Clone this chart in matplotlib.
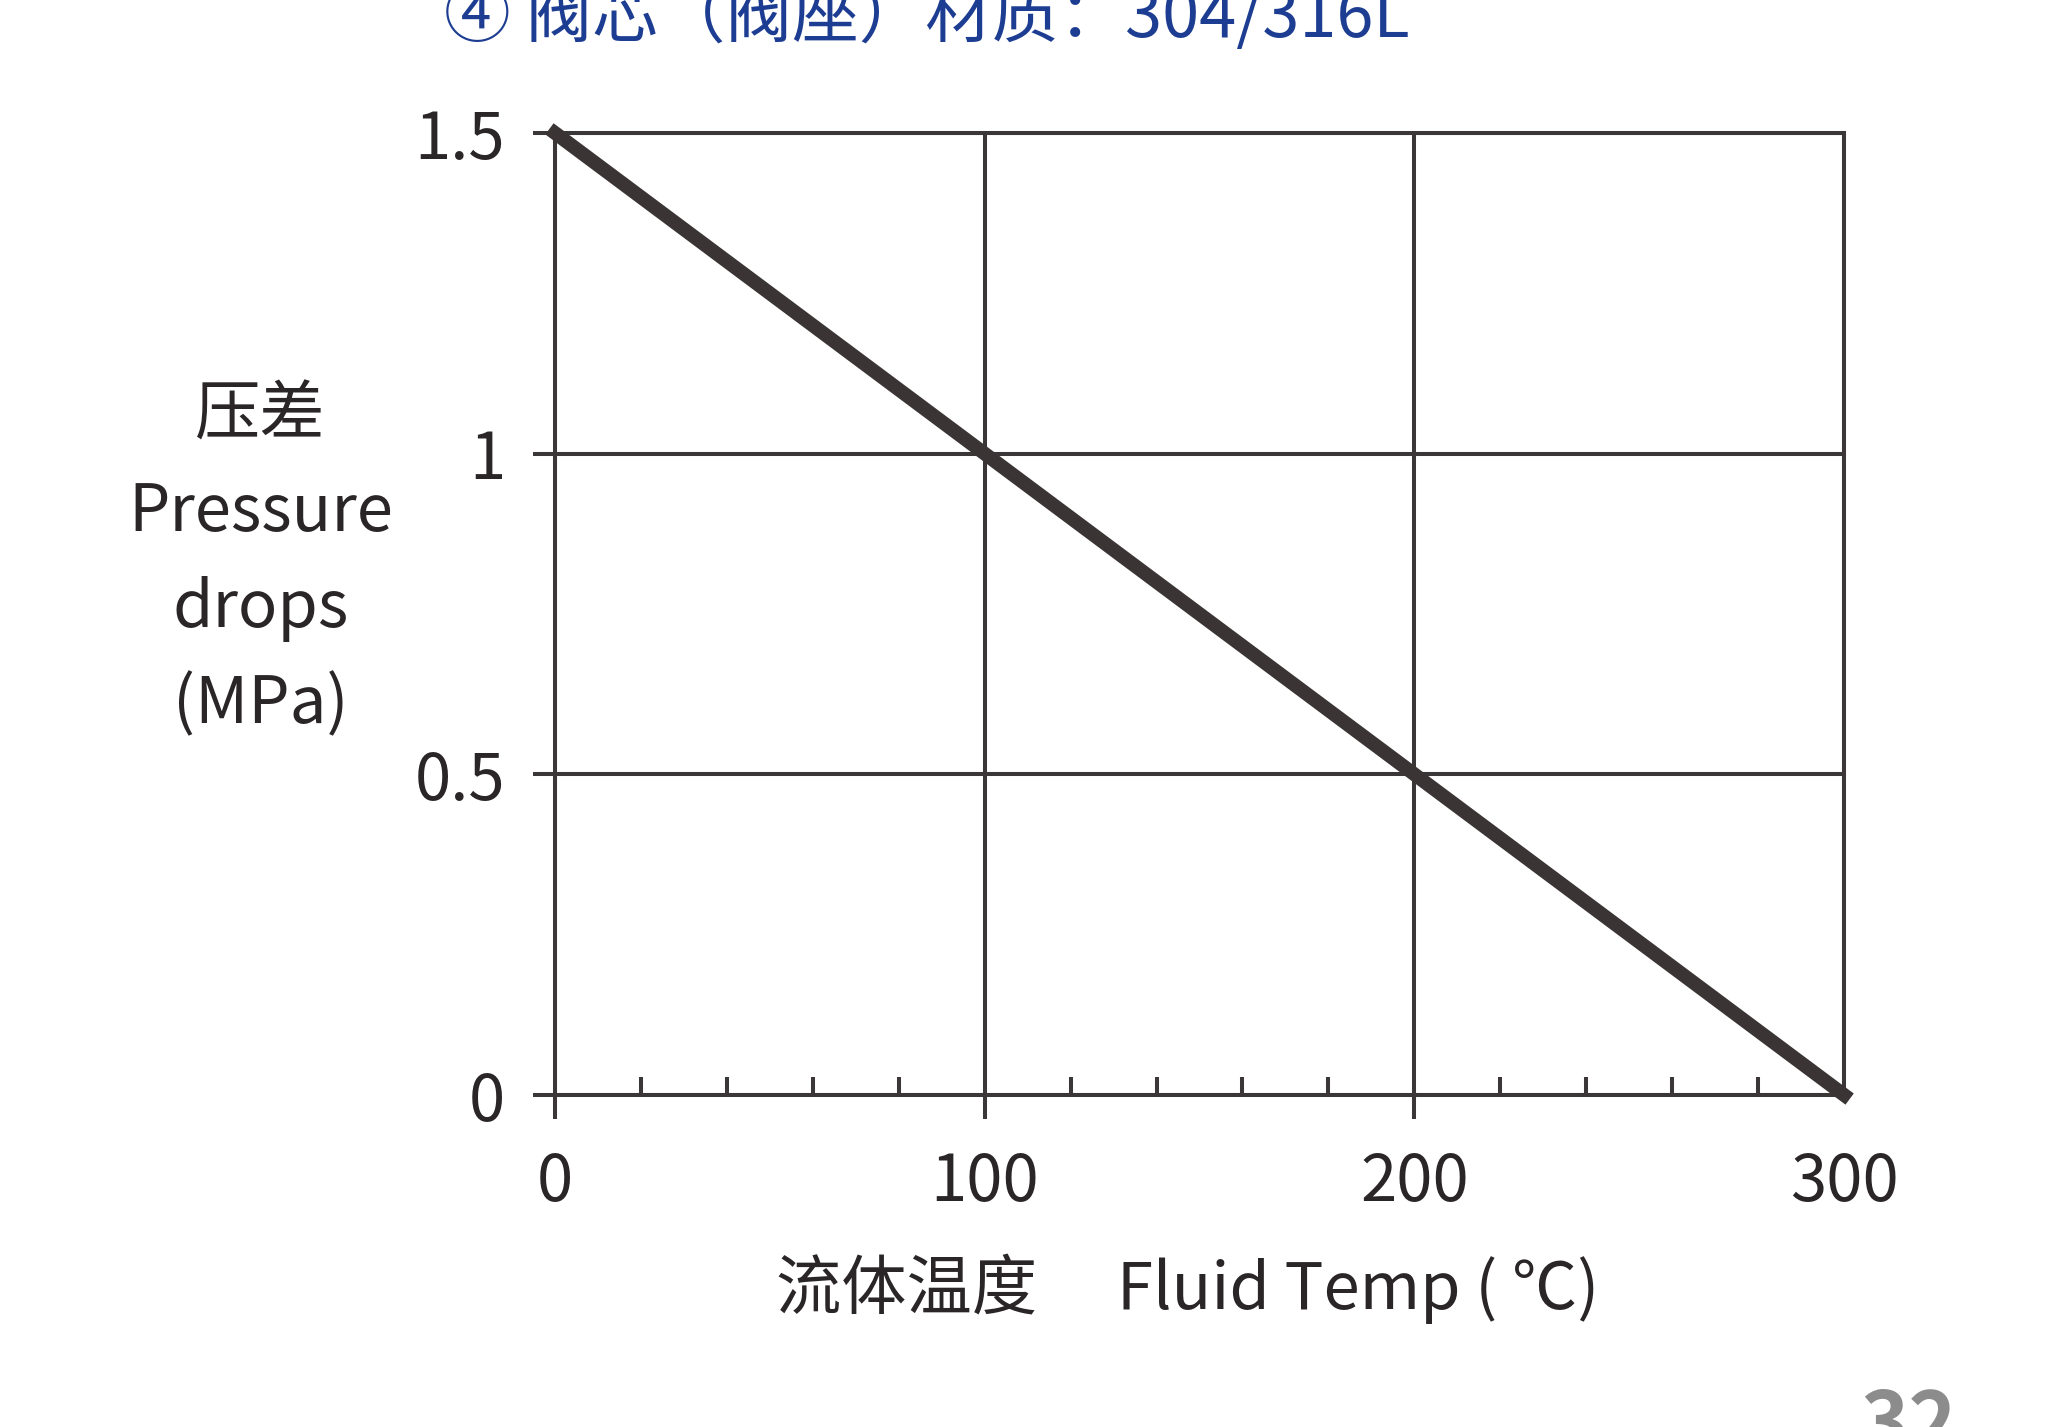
import matplotlib
matplotlib.use("Agg")
import matplotlib.pyplot as plt
from matplotlib.ticker import MultipleLocator, FixedLocator

# data
temp = [0, 100, 200, 300]          # 流体温度, ℃
pressure = [1.5, 1.0, 0.5, 0.0]    # 压差, MPa
x_ticks = [0, 100, 200, 300]
y_ticks = [0, 0.5, 1, 1.5]
y_tick_labels = ["0", "0.5", "1", "1.5"]

title = "④ 阀芯（阀座）材质：304/316L"
ylabel_lines = ["压差", "Pressure", "drops", "(MPa)"]
xlabel = "流体温度\u3000 Fluid Temp ( ℃)"
page_no = "32"

plt.rcParams["font.family"] = ["Noto Sans CJK SC", "DejaVu Sans"]

dark = "#3b3637"
txt = "#2a2627"

fig = plt.figure(figsize=(20.51, 14.27), dpi=100)
fig.patch.set_facecolor("white")
ax = fig.add_axes([0.2706, 0.2327, 0.8991 - 0.2706, 0.9068 - 0.2327])

ax.plot(temp, pressure, color="#3a3435", lw=10, solid_capstyle="projecting",
        zorder=5, clip_on=False)

ax.set_xlim(0, 300)
ax.set_ylim(0, 1.5)
ax.xaxis.set_major_locator(FixedLocator(x_ticks))
ax.yaxis.set_major_locator(FixedLocator(y_ticks))
ax.set_yticklabels(y_tick_labels)
ax.xaxis.set_minor_locator(MultipleLocator(20))

ax.grid(True, which="major", color=dark, lw=2.9)
for s in ax.spines.values():
    s.set_color(dark)
    s.set_linewidth(2.9)

ax.tick_params(axis="x", which="major", direction="out", length=17, width=2.9,
               color=dark, pad=22, labelsize=47, labelcolor=txt)
ax.tick_params(axis="x", which="minor", direction="in", length=13, width=2.9,
               color=dark)
ax.tick_params(axis="y", which="major", direction="out", length=16, width=2.9,
               color=dark, pad=20, labelsize=47, labelcolor=txt)
# no downward stub under the 300 line
ax.xaxis.get_major_ticks()[-1].tick1line.set_visible(False)

fig.text(0.127, 0.607, "\n".join(ylabel_lines), ha="center", va="center",
         multialignment="center", fontsize=47, color=txt, linespacing=1.58)
fig.text(0.579, 0.097, xlabel, ha="center", va="center", fontsize=47, color=txt)
fig.text(0.452, 0.9875, title, ha="center", va="center", fontsize=48,
         color="#1d3d92")
fig.text(0.931, 0.0294, page_no, ha="center", va="top", fontsize=59,
         fontweight="bold", color="#8c8c8c")

fig.savefig("out.png", dpi=100, facecolor="white")
